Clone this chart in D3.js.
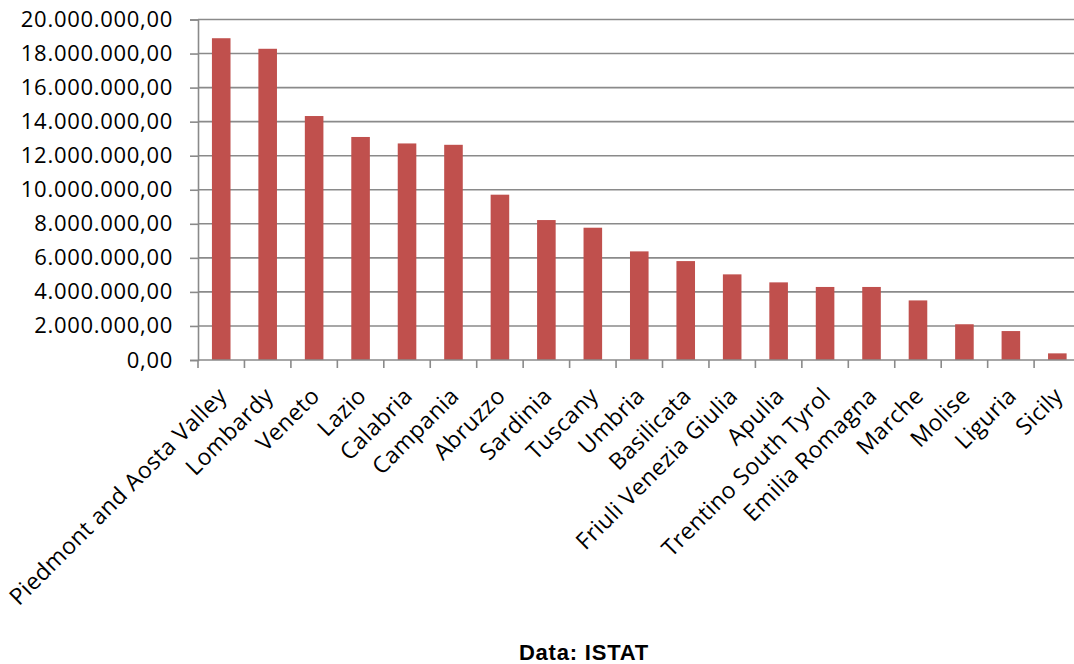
<!DOCTYPE html>
<html>
<head>
<meta charset="utf-8">
<script src="https://cdn.jsdelivr.net/npm/d3@7"></script>
<style>
  body { margin: 0; background: #fff; }
  svg { display: block; }
  .tick text { font-family: "Open Sans", sans-serif; fill: #000; }
</style>
</head>
<body>
<div id="svg"></div>
<script>
// regions and values
const regions = [
    "Piedmont and Aosta Valley", "Lombardy", "Veneto", "Lazio", "Calabria",
    "Campania", "Abruzzo", "Sardinia", "Tuscany", "Umbria", "Basilicata",
    "Friuli Venezia Giulia", "Apulia", "Trentino South Tyrol", "Emilia Romagna",
    "Marche", "Molise", "Liguria", "Sicily"
];
const values = [
    18900000, 18280000, 14330000, 13100000, 12720000,
    12640000, 9710000, 8220000, 7770000, 6380000, 5810000,
    5030000, 4560000, 4290000, 4290000,
    3500000, 2100000, 1700000, 390000
];
const yTicks = [0, 2000000, 4000000, 6000000, 8000000, 10000000,
                12000000, 14000000, 16000000, 18000000, 20000000];
const caption = "Data: ISTAT";

const width = 1074;
const height = 664;
const plotLeft = 198;
const plotTop = 19.5;
const plotBottom = 360;
const step = 46.45;
const plotRight = plotLeft + step * regions.length;

const data = regions.map((r, i) => ({region: r, value: values[i]}));

const itFormat = d3.formatLocale({
    decimal: ",", thousands: ".", grouping: [3], currency: ["€", ""]
}).format(",.2f");

const xScale = d3.scaleBand()
    .domain(regions)
    .range([plotLeft, plotRight])
    .paddingInner(0.6)
    .paddingOuter(0.3);

const yScale = d3.scaleLinear()
    .domain([0, 20000000])
    .range([plotBottom, plotTop]);

let svg = d3.select('#svg')
    .append('svg')
    .attr('width', width)
    .attr('height', height);

// gridlines
svg.append('g')
    .selectAll('line')
    .data(yTicks.slice(1))
    .enter()
    .append('line')
    .attr('x1', plotLeft)
    .attr('x2', plotRight)
    .attr('y1', d => yScale(d))
    .attr('y2', d => yScale(d))
    .attr('stroke', '#8a8a8a')
    .attr('stroke-width', 1.6);

// bars
svg.append('g')
    .selectAll('rect')
    .data(data)
    .enter()
    .append('rect')
    .attr('x', d => xScale(d.region))
    .attr('y', d => yScale(d.value))
    .attr('width', xScale.bandwidth())
    .attr('height', d => plotBottom - yScale(d.value))
    .attr('fill', '#c0504d');

// y axis
let yAxis = svg.append('g')
    .attr('transform', `translate(${plotLeft},0)`)
    .call(d3.axisLeft(yScale).tickValues(yTicks).tickFormat(itFormat).tickSize(8).tickPadding(17));
yAxis.selectAll('line').attr('stroke', '#8a8a8a').attr('stroke-width', 1.6);
yAxis.select('.domain').attr('stroke', '#8a8a8a').attr('stroke-width', 1.6);
yAxis.selectAll('text')
    .style('font-size', '22px')
    .style('letter-spacing', '0.7px');

// x axis: ticks at category boundaries
let xAxis = svg.append('g')
    .attr('transform', `translate(0,${plotBottom})`);
xAxis.append('line')
    .attr('x1', plotLeft).attr('x2', plotRight)
    .attr('stroke', '#8a8a8a').attr('stroke-width', 1.6);
xAxis.selectAll('line.bt')
    .data(d3.range(regions.length + 1))
    .enter()
    .append('line')
    .attr('class', 'bt')
    .attr('x1', i => plotLeft + i * step)
    .attr('x2', i => plotLeft + i * step)
    .attr('y1', 0)
    .attr('y2', 8)
    .attr('stroke', '#8a8a8a')
    .attr('stroke-width', 1.6);

xAxis.selectAll('text')
    .data(regions)
    .enter()
    .append('text')
    .attr('transform', d => `translate(${xScale(d) + xScale.bandwidth() / 2 - 4.5},26) rotate(-45)`)
    .attr('text-anchor', 'end')
    .attr('dy', '0.7em')
    .style('font-family', '"Open Sans", sans-serif')
    .style('font-size', '23px')
    .style('letter-spacing', '0.4px')
    .text(d => d);

// caption
svg.append('text')
    .attr('x', 584)
    .attr('y', 660)
    .attr('text-anchor', 'middle')
    .style('font-family', '"Liberation Sans", Arial, sans-serif')
    .style('font-weight', 'bold')
    .style('font-size', '22px')
    .style('letter-spacing', '0.8px')
    .text(caption);
</script>
</body>
</html>
